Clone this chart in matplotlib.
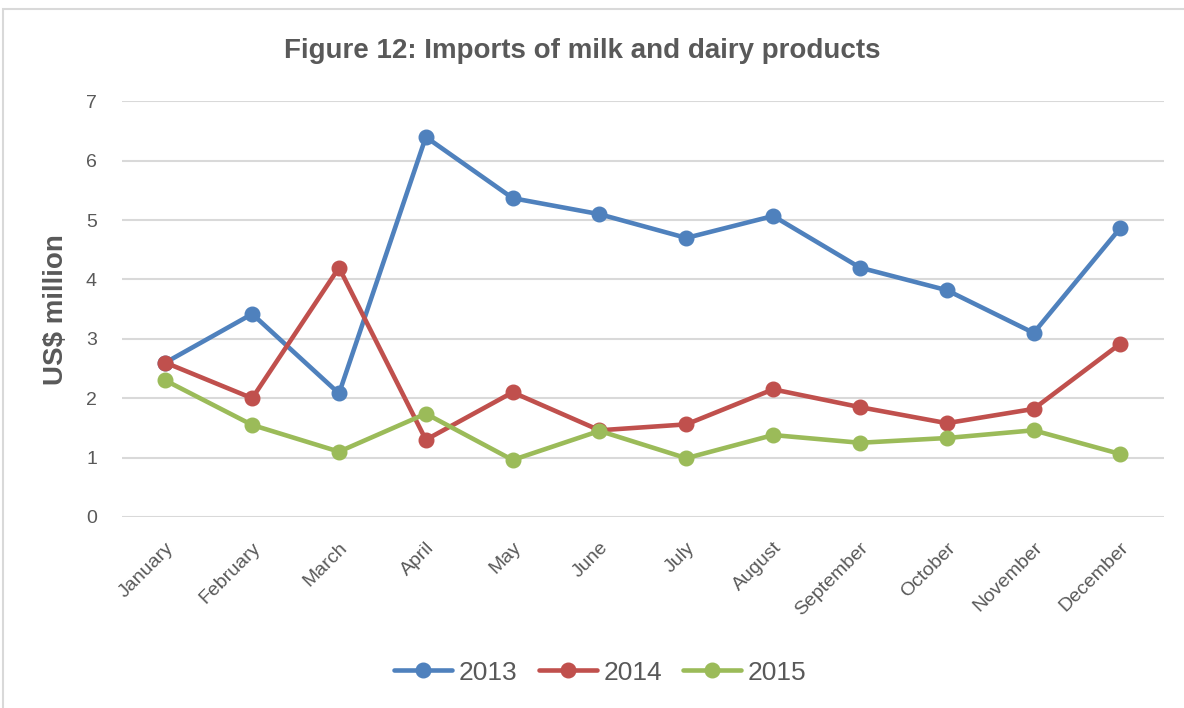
import matplotlib
matplotlib.use("Agg")
import matplotlib.pyplot as plt
from matplotlib.patches import Rectangle

months = ["January", "February", "March", "April", "May", "June", "July",
          "August", "September", "October", "November", "December"]
y2013 = [2.6, 3.42, 2.08, 6.4, 5.37, 5.1, 4.7, 5.07, 4.2, 3.82, 3.1, 4.87]
y2014 = [2.6, 2.0, 4.2, 1.3, 2.1, 1.46, 1.56, 2.15, 1.85, 1.58, 1.82, 2.92]
y2015 = [2.3, 1.55, 1.1, 1.74, 0.96, 1.45, 0.99, 1.38, 1.25, 1.33, 1.46, 1.06]
years = ["2013", "2014", "2015"]
colors = ["#4F81BD", "#C0504D", "#9BBB59"]

plt.rcParams['font.family'] = ['Liberation Sans', 'DejaVu Sans']
grey = "#595959"

fig = plt.figure(figsize=(11.84, 7.08), dpi=100)
ax = fig.add_axes([0.103, 0.2698, 0.880, 0.587])

# chart border
fig.patches.append(Rectangle((3/1184, -0.01), 1.1, 1 - 9/708 + 0.01, transform=fig.transFigure,
                             fill=False, edgecolor="#D9D9D9", linewidth=1.5))

x = list(range(len(months)))
for vals, lab, c in zip([y2013, y2014, y2015], years, colors):
    ax.plot(x, vals, color=c, linewidth=3.3, marker="o", markersize=10.5, label=lab,
            solid_capstyle="round")

ax.set_xlim(-0.5, 11.5)
ax.set_ylim(0, 7)
ax.set_yticks(range(0, 8))
ax.grid(axis="y", color="#D9D9D9", linewidth=1.5)
ax.set_axisbelow(True)
for s in ["top", "right", "left", "bottom"]:
    ax.spines[s].set_visible(False)
ax.tick_params(axis="both", length=0, colors=grey)
ax.tick_params(axis="y", pad=18, labelsize=14)
ax.tick_params(axis="x", pad=16, labelsize=14)
ax.set_xticks(x)
ax.set_xticklabels(months, rotation=45, ha="right", rotation_mode="anchor")

ax.set_ylabel("US$ million", fontsize=20, fontweight="bold", color=grey, labelpad=12)
fig.text(0.492, 0.928, "Figure 12: Imports of milk and dairy products", ha="center", va="center",
         fontsize=20, fontweight="bold", color=grey)

leg = fig.legend(loc="center", bbox_to_anchor=(0.507, 0.05), ncol=3, frameon=False,
                 fontsize=19, handlelength=2.2, columnspacing=0.8, handletextpad=0.25,
                 labelcolor=grey)

plt.savefig("out.png", dpi=100)
